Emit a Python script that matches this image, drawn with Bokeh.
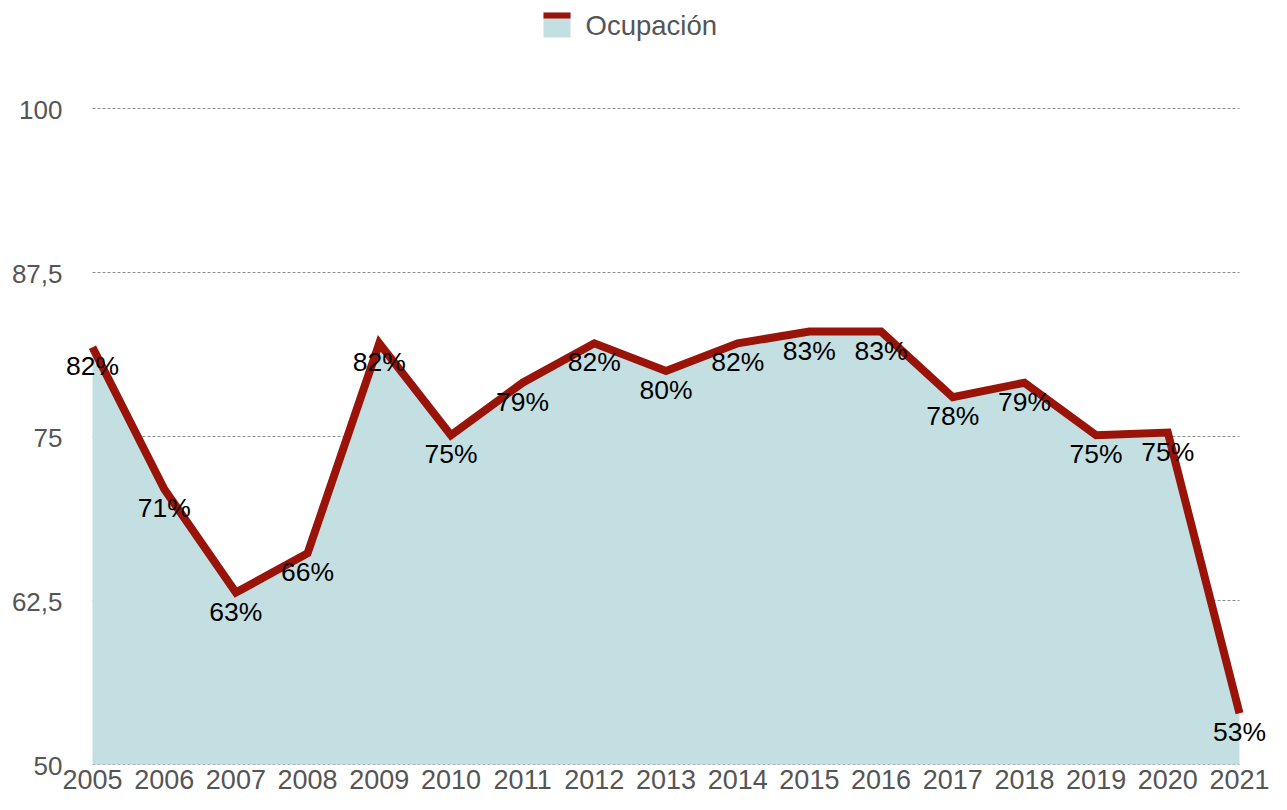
from bokeh.plotting import figure
from bokeh.models import Range1d, BoxAnnotation, Label, ColumnDataSource
from bokeh.core.properties import value
from bokeh.embed import file_html
from bokeh.resources import INLINE

years = [2005, 2006, 2007, 2008, 2009, 2010, 2011, 2012, 2013, 2014, 2015, 2016, 2017, 2018, 2019, 2020, 2021]
occupancy = [81.8, 71.0, 63.1, 66.1, 82.1, 75.1, 79.1, 82.1, 80.0, 82.1, 83.0, 83.0, 78.0, 79.1, 75.1, 75.3, 53.9]
point_labels = ["82%", "71%", "63%", "66%", "82%", "75%", "79%", "82%", "80%", "82%", "83%", "83%",
                "78%", "79%", "75%", "75%", "53%"]
year_labels = [str(y) for y in years]
y_ticks = [50, 62.5, 75, 87.5, 100]
y_tick_labels = ["50", "62,5", "75", "87,5", "100"]
series_name = "Ocupación"

FONT = "Liberation Sans"
RED = "#9a1309"
FILL = "#c4dfe2"
GREY = "#555555"
GRID = "#8c8c8c"

# canvas / plotting-area geometry (pixels)
W, H = 1271, 794
LEFT, RIGHT, TOP, BOTTOM = 92, 32, 108, 30
px_x = (W - LEFT - RIGHT) / (years[-1] - years[0])
px_y = (H - TOP - BOTTOM) / (y_ticks[-1] - y_ticks[0])
x_range = Range1d(years[0] - LEFT / px_x, years[-1] + RIGHT / px_x)
y_range = Range1d(y_ticks[0] - BOTTOM / px_y, y_ticks[-1] + TOP / px_y)

src = ColumnDataSource(dict(x=years, y=occupancy, lab=point_labels, ylab=year_labels,
                            base=[y_ticks[0]] * len(years)))
tick_src = ColumnDataSource(dict(y=y_ticks, lab=y_tick_labels,
                                 x0=[years[0]] * len(y_ticks), x1=[years[-1]] * len(y_ticks)))

p = figure(width=W, height=H, output_backend="svg", toolbar_location=None,
           x_range=x_range, y_range=y_range, x_axis_location=None, y_axis_location=None,
           min_border=0)
p.outline_line_color = None
p.grid.visible = False
p.background_fill_color = "white"
p.border_fill_color = "white"

# dotted horizontal gridlines (beneath the area)
p.segment(x0="x0", x1="x1", y0="y", y1="y", source=tick_src, line_color=GRID,
          line_width=1, line_dash="3 2")

area = p.varea(x="x", y1="base", y2="y", source=src, fill_color=FILL)
p.line(x="x", y="y", source=src, line_color=RED, line_width=8, line_join="miter", line_cap="butt")

# value labels
p.text(x="x", y="y", text="lab", source=src, text_align="center", text_baseline="middle",
       y_offset=19, text_font=value(FONT), text_font_size="26.5px", text_color="black")

# x tick labels
p.text(x="x", y="base", text="ylab", source=src, text_align="center", text_baseline="middle",
       y_offset=15, text_font=value(FONT), text_font_size="27px", text_color=GREY)

# y tick labels
p.text(x="x0", y="y", text="lab", source=tick_src, text_align="right", text_baseline="middle",
       x_offset=-30, y_offset=1.5, text_font=value(FONT), text_font_size="26px", text_color=GREY)

# legend (top centre): swatch = area fill with the line colour on top
p.add_layout(BoxAnnotation(left=543, right=570, bottom=H - 37, top=H - 12,
                           left_units="screen", right_units="screen",
                           top_units="screen", bottom_units="screen",
                           fill_color=FILL, fill_alpha=1, line_color=None))
p.add_layout(BoxAnnotation(left=543, right=570, bottom=H - 18, top=H - 12,
                           left_units="screen", right_units="screen",
                           top_units="screen", bottom_units="screen",
                           fill_color=RED, fill_alpha=1, line_color=None))
p.add_layout(Label(x=585, y=H - 25, x_units="screen", y_units="screen", text=series_name,
                   text_align="left", text_baseline="middle", text_font=FONT,
                   text_font_size="27.5px", text_color=GREY))

open("out.html", "w").write(file_html(p, INLINE))
